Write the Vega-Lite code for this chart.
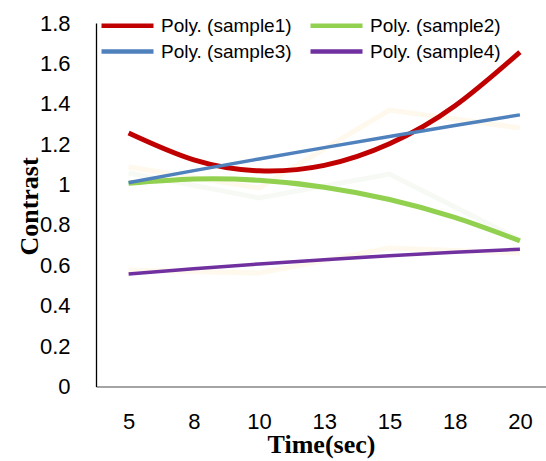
{
  "$schema": "https://vega.github.io/schema/vega-lite/v6.json",
  "width": 450,
  "height": 363.5,
  "autosize": {"type": "none"},
  "padding": {"left": 96, "top": 23, "right": 0, "bottom": 74.5},
  "background": "white",
  "config": {
    "view": {"stroke": null},
    "legend": {
      "orient": "none",
      "legendX": 16,
      "legendY": -13,
      "direction": "horizontal",
      "columns": 2,
      "symbolType": "M-2,0H2",
      "symbolSize": 676,
      "symbolStrokeWidth": 4.5,
      "labelFont": "Liberation Sans",
      "labelFontSize": 19,
      "labelColor": "black",
      "labelOffset": 18,
      "columnPadding": 9,
      "rowPadding": -2,
      "padding": 0,
      "title": null
    }
  },
  "datasets": {
    "trend": [
      {"series": "Poly. (sample1)", "time": 5, "value": 1.255},
      {"series": "Poly. (sample1)", "time": 7.5, "value": 1.122},
      {"series": "Poly. (sample1)", "time": 10, "value": 1.068},
      {"series": "Poly. (sample1)", "time": 12.5, "value": 1.095},
      {"series": "Poly. (sample1)", "time": 15, "value": 1.202},
      {"series": "Poly. (sample1)", "time": 17.5, "value": 1.389},
      {"series": "Poly. (sample1)", "time": 20, "value": 1.656},
      {"series": "Poly. (sample2)", "time": 5, "value": 1.006},
      {"series": "Poly. (sample2)", "time": 7.5, "value": 1.027},
      {"series": "Poly. (sample2)", "time": 10, "value": 1.021},
      {"series": "Poly. (sample2)", "time": 12.5, "value": 0.987},
      {"series": "Poly. (sample2)", "time": 15, "value": 0.926},
      {"series": "Poly. (sample2)", "time": 17.5, "value": 0.837},
      {"series": "Poly. (sample2)", "time": 20, "value": 0.721},
      {"series": "Poly. (sample3)", "time": 5, "value": 1.009},
      {"series": "Poly. (sample3)", "time": 7.5, "value": 1.069},
      {"series": "Poly. (sample3)", "time": 10, "value": 1.127},
      {"series": "Poly. (sample3)", "time": 12.5, "value": 1.183},
      {"series": "Poly. (sample3)", "time": 15, "value": 1.238},
      {"series": "Poly. (sample3)", "time": 17.5, "value": 1.292},
      {"series": "Poly. (sample3)", "time": 20, "value": 1.345},
      {"series": "Poly. (sample4)", "time": 5, "value": 0.557},
      {"series": "Poly. (sample4)", "time": 7.5, "value": 0.583},
      {"series": "Poly. (sample4)", "time": 10, "value": 0.607},
      {"series": "Poly. (sample4)", "time": 12.5, "value": 0.628},
      {"series": "Poly. (sample4)", "time": 15, "value": 0.648},
      {"series": "Poly. (sample4)", "time": 17.5, "value": 0.665},
      {"series": "Poly. (sample4)", "time": 20, "value": 0.68}
    ],
    "raw": [
      {"series": "rawA", "time": 5, "value": 1.087},
      {"series": "rawA", "time": 10, "value": 0.983},
      {"series": "rawA", "time": 15, "value": 1.369},
      {"series": "rawA", "time": 20, "value": 1.28},
      {"series": "rawC", "time": 5, "value": 0.577},
      {"series": "rawC", "time": 10, "value": 0.562},
      {"series": "rawC", "time": 15, "value": 0.686},
      {"series": "rawC", "time": 20, "value": 0.661},
      {"series": "rawB", "time": 5, "value": 1.057},
      {"series": "rawB", "time": 10, "value": 0.934},
      {"series": "rawB", "time": 15, "value": 1.052},
      {"series": "rawB", "time": 20, "value": 0.726}
    ]
  },
  "encoding": {
    "x": {
      "field": "time",
      "type": "quantitative",
      "scale": {"domain": [3.75, 21.0], "nice": false, "zero": false},
      "axis": {
        "values": [5, 7.5, 10, 12.5, 15, 17.5, 20],
        "format": "d",
        "grid": false,
        "ticks": false,
        "tickSize": 0,
        "domainColor": "#868686",
        "domainWidth": 1.3,
        "labelFont": "Liberation Sans",
        "labelFontSize": 22,
        "labelColor": "black",
        "labelBaseline": "middle",
        "labelPadding": 34.5,
        "labelFlush": false,
        "labelOverlap": false,
        "title": "Time(sec)",
        "titleFont": "Liberation Serif",
        "titleFontSize": 26,
        "titleFontWeight": "bold",
        "titleColor": "black",
        "titleBaseline": "middle",
        "titleY": 58
      }
    },
    "y": {
      "field": "value",
      "type": "quantitative",
      "scale": {"domain": [0, 1.8], "nice": false},
      "axis": {
        "values": [0, 0.2, 0.4, 0.6, 0.8, 1, 1.2, 1.4, 1.6, 1.8],
        "format": ".1~f",
        "grid": false,
        "ticks": false,
        "tickSize": 0,
        "domainColor": "black",
        "domainWidth": 1.3,
        "labelFont": "Liberation Sans",
        "labelFontSize": 22,
        "labelColor": "black",
        "labelPadding": 26,
        "labelFlush": false,
        "labelOverlap": false,
        "title": "Contrast",
        "titleFont": "Liberation Serif",
        "titleFontSize": 26,
        "titleFontWeight": "bold",
        "titleColor": "black",
        "titleBaseline": "middle",
        "titleAlign": "center",
        "titleX": -67,
        "titleY": 183
      }
    }
  },
  "layer": [
    {
      "data": {"name": "raw"},
      "transform": [{"filter": "datum.series !== 'rawB'"}],
      "mark": {"type": "line", "strokeWidth": 5, "color": "#fff8ec"},
      "encoding": {"detail": {"field": "series", "type": "nominal"}}
    },
    {
      "data": {"name": "raw"},
      "transform": [{"filter": "datum.series === 'rawB'"}],
      "mark": {"type": "line", "strokeWidth": 5, "color": "#f7faf4"},
      "encoding": {"detail": {"field": "series", "type": "nominal"}}
    },
    {
      "data": {"name": "trend"},
      "transform": [{"filter": "datum.series === 'Poly. (sample1)' || datum.series === 'Poly. (sample2)'"}],
      "mark": {"type": "line", "strokeWidth": 5, "interpolate": "natural"},
      "encoding": {
        "color": {
          "field": "series",
          "type": "nominal",
          "scale": {
            "domain": ["Poly. (sample1)", "Poly. (sample2)", "Poly. (sample3)", "Poly. (sample4)"],
            "range": ["#C00000", "#92D050", "#4F81BD", "#7030A0"]
          }
        }
      }
    },
    {
      "data": {"name": "trend"},
      "transform": [{"filter": "datum.series === 'Poly. (sample3)' || datum.series === 'Poly. (sample4)'"}],
      "mark": {"type": "line", "strokeWidth": 3.5, "interpolate": "natural"},
      "encoding": {
        "color": {
          "field": "series",
          "type": "nominal",
          "scale": {
            "domain": ["Poly. (sample1)", "Poly. (sample2)", "Poly. (sample3)", "Poly. (sample4)"],
            "range": ["#C00000", "#92D050", "#4F81BD", "#7030A0"]
          }
        }
      }
    }
  ]
}
